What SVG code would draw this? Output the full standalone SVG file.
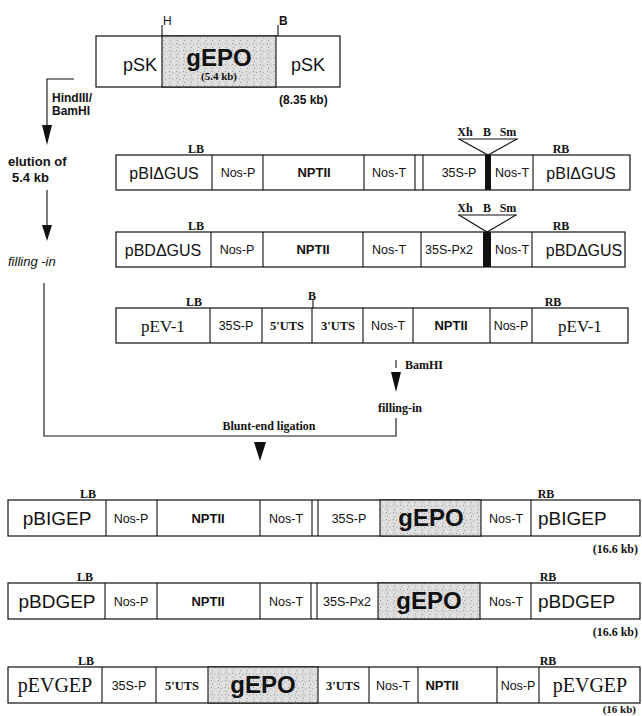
<svg xmlns="http://www.w3.org/2000/svg" width="642" height="716" viewBox="0 0 642 716">
<style>
.box{fill:#fff;stroke:#111;stroke-width:1.2}
.seg{stroke:#111;stroke-width:1.1;fill:none}
.ln{stroke:#111;stroke-width:1.1;fill:none}
.sans{font-family:"Liberation Sans",Arial,sans-serif;fill:#111}
.serif{font-family:"Liberation Serif","Times New Roman",serif;fill:#111;font-weight:bold}
.rs{font-family:"Liberation Serif","Times New Roman",serif;fill:#111;font-weight:normal}
.big{font-size:18px}
.mid{font-size:12.5px}
.gepo{font-size:24px;font-weight:bold}
.npt{font-size:13px;font-weight:bold}
.tag{font-size:12px}
.kb{font-size:12px}
</style>
<defs>
<pattern id="stip" width="7" height="7" patternUnits="userSpaceOnUse">
<rect width="7" height="7" fill="#dcdcdc"/>
<rect x="1" y="1" width="1" height="1" fill="#9a9a9a"/>
<rect x="4" y="2" width="1" height="1" fill="#b0b0b0"/>
<rect x="2" y="5" width="1" height="1" fill="#a4a4a4"/>
<rect x="5" y="5" width="1" height="1" fill="#f4f4f4"/>
<rect x="6" y="0" width="1" height="1" fill="#f0f0f0"/>
</pattern>
</defs>

<!-- top construct -->
<g id="pSK-gEPO">
<rect class="box" x="96" y="36" width="244" height="51"/>
<rect x="162" y="36" width="114" height="51" fill="url(#stip)" stroke="#111" stroke-width="1.1"/>
<line class="ln" x1="162" y1="25" x2="162" y2="36"/>
<line class="ln" x1="278" y1="25" x2="278" y2="36"/>
<text class="sans" x="163" y="25" font-size="12">H</text>
<text class="sans" x="279" y="25" font-size="12" font-weight="bold">B</text>
<text class="sans big" x="140" y="71" text-anchor="middle">pSK</text>
<text class="sans gepo" x="219" y="66" text-anchor="middle">gEPO</text>
<text class="serif" x="219" y="80" font-size="11" text-anchor="middle">(5.4 kb)</text>
<text class="sans big" x="308" y="71" text-anchor="middle">pSK</text>
<text class="sans" x="279" y="104" font-size="12" font-weight="bold">(8.35 kb)</text>
</g>

<!-- pBI delta GUS -->
<g id="pBIdGUS">
<rect class="box" x="116" y="155" width="514" height="35"/>
<path class="seg" d="M212 155V190M263 155V190M364 155V190M415 155V190M423 155V190M533 155V190"/>
<rect x="485" y="155" width="6" height="35" fill="#111"/>
<text class="sans" x="164" y="179" font-size="16" text-anchor="middle">pBIΔGUS</text>
<text class="sans mid" x="238" y="177" text-anchor="middle">Nos-P</text>
<text class="sans npt" x="314" y="177" text-anchor="middle">NPTII</text>
<text class="sans mid" x="389" y="177" text-anchor="middle">Nos-T</text>
<text class="sans mid" x="459" y="177" text-anchor="middle">35S-P</text>
<text class="sans mid" x="512" y="177" text-anchor="middle">Nos-T</text>
<text class="sans" x="581" y="179" font-size="16" text-anchor="middle">pBIΔGUS</text>
<text class="serif tag" x="196" y="153" text-anchor="middle">LB</text>
<text class="serif tag" x="561" y="153" text-anchor="middle">RB</text>
<text class="serif tag" x="465" y="136" text-anchor="middle">Xh</text>
<text class="serif tag" x="487" y="136" text-anchor="middle">B</text>
<text class="serif tag" x="508" y="136" text-anchor="middle">Sm</text>
<line class="ln" x1="458" y1="139" x2="518" y2="139"/>
<polyline class="ln" points="459,139 488,155 517,139"/>
</g>

<!-- pBD delta GUS -->
<g id="pBDdGUS">
<rect class="box" x="116" y="232" width="509" height="35"/>
<path class="seg" d="M211 232V267M263 232V267M363 232V267M421 232V267M532 232V267"/>
<rect x="483" y="232" width="8" height="35" fill="#111"/>
<text class="sans" x="163" y="256" font-size="16" text-anchor="middle">pBDΔGUS</text>
<text class="sans mid" x="237" y="254" text-anchor="middle">Nos-P</text>
<text class="sans npt" x="313" y="254" text-anchor="middle">NPTII</text>
<text class="sans mid" x="389" y="254" text-anchor="middle">Nos-T</text>
<text class="sans mid" x="449" y="254" text-anchor="middle">35S-Px2</text>
<text class="sans mid" x="512" y="254" text-anchor="middle">Nos-T</text>
<text class="sans" x="584" y="256" font-size="16" text-anchor="middle">pBDΔGUS</text>
<text class="serif tag" x="196" y="230" text-anchor="middle">LB</text>
<text class="serif tag" x="561" y="230" text-anchor="middle">RB</text>
<text class="serif tag" x="465" y="212" text-anchor="middle">Xh</text>
<text class="serif tag" x="487" y="212" text-anchor="middle">B</text>
<text class="serif tag" x="508" y="212" text-anchor="middle">Sm</text>
<line class="ln" x1="458" y1="215" x2="517" y2="215"/>
<polyline class="ln" points="459,215 487,232 516,215"/>
</g>

<!-- pEV-1 -->
<g id="pEV-1">
<rect class="box" x="116" y="308" width="512" height="35"/>
<path class="seg" d="M210 308V343M262 308V343M312 308V343M363 308V343M413 308V343M490 308V343M532 308V343"/>
<line class="ln" x1="313" y1="300" x2="313" y2="308"/>
<text class="serif tag" x="312" y="300" text-anchor="middle">B</text>
<text class="rs" x="163" y="332" font-size="17" text-anchor="middle">pEV-1</text>
<text class="sans mid" x="236" y="330" text-anchor="middle">35S-P</text>
<text class="serif mid" x="287" y="330" text-anchor="middle">5'UTS</text>
<text class="serif mid" x="338" y="330" text-anchor="middle">3'UTS</text>
<text class="sans mid" x="388" y="330" text-anchor="middle">Nos-T</text>
<text class="sans npt" x="451" y="330" text-anchor="middle">NPTII</text>
<text class="sans mid" x="511" y="330" text-anchor="middle">Nos-P</text>
<text class="rs" x="580" y="332" font-size="17" text-anchor="middle">pEV-1</text>
<text class="serif tag" x="194" y="306" text-anchor="middle">LB</text>
<text class="serif tag" x="553" y="306" text-anchor="middle">RB</text>
</g>

<!-- pBIGEP -->
<g id="pBIGEP">
<rect class="box" x="8" y="500" width="632" height="36"/>
<rect x="380" y="500" width="101" height="36" fill="url(#stip)" stroke="#111" stroke-width="1.1"/>
<path class="seg" d="M106 500V536M157 500V536M260 500V536M312 500V536M318 500V536M531 500V536"/>
<text class="sans" x="57" y="525" font-size="19" text-anchor="middle">pBIGEP</text>
<text class="sans mid" x="131" y="523" text-anchor="middle">Nos-P</text>
<text class="sans npt" x="208" y="523" text-anchor="middle">NPTII</text>
<text class="sans mid" x="286" y="523" text-anchor="middle">Nos-T</text>
<text class="sans mid" x="349" y="523" text-anchor="middle">35S-P</text>
<text class="sans gepo" x="431" y="526" text-anchor="middle">gEPO</text>
<text class="sans mid" x="506" y="523" text-anchor="middle">Nos-T</text>
<text class="sans" x="538" y="525" font-size="19">pBIGEP</text>
<text class="serif tag" x="88" y="498" text-anchor="middle">LB</text>
<text class="serif tag" x="546" y="498" text-anchor="middle">RB</text>
<text class="serif kb" x="638" y="553" text-anchor="end">(16.6 kb)</text>
</g>

<!-- pBDGEP -->
<g id="pBDGEP">
<rect class="box" x="8" y="583" width="632" height="36"/>
<rect x="378" y="583" width="102" height="36" fill="url(#stip)" stroke="#111" stroke-width="1.1"/>
<path class="seg" d="M105 583V619M157 583V619M260 583V619M311 583V619M317 583V619M531 583V619"/>
<text class="sans" x="57" y="608" font-size="19" text-anchor="middle">pBDGEP</text>
<text class="sans mid" x="131" y="606" text-anchor="middle">Nos-P</text>
<text class="sans npt" x="208" y="606" text-anchor="middle">NPTII</text>
<text class="sans mid" x="286" y="606" text-anchor="middle">Nos-T</text>
<text class="sans mid" x="347" y="606" text-anchor="middle">35S-Px2</text>
<text class="sans gepo" x="429" y="609" text-anchor="middle">gEPO</text>
<text class="sans mid" x="506" y="606" text-anchor="middle">Nos-T</text>
<text class="sans" x="538" y="608" font-size="19">pBDGEP</text>
<text class="serif tag" x="85" y="581" text-anchor="middle">LB</text>
<text class="serif tag" x="548" y="581" text-anchor="middle">RB</text>
<text class="serif kb" x="638" y="636" text-anchor="end">(16.6 kb)</text>
</g>

<!-- pEVGEP -->
<g id="pEVGEP">
<rect class="box" x="8" y="667" width="632" height="36"/>
<rect x="208" y="667" width="110" height="36" fill="url(#stip)" stroke="#111" stroke-width="1.1"/>
<path class="seg" d="M102 667V703M156 667V703M369 667V703M418 667V703M497 667V703M539 667V703"/>
<text class="rs" x="55" y="692" font-size="20" text-anchor="middle">pEVGEP</text>
<text class="sans mid" x="129" y="690" text-anchor="middle">35S-P</text>
<text class="serif mid" x="182" y="690" text-anchor="middle">5'UTS</text>
<text class="sans gepo" x="263" y="693" text-anchor="middle">gEPO</text>
<text class="serif mid" x="343" y="690" text-anchor="middle">3'UTS</text>
<text class="sans mid" x="393" y="690" text-anchor="middle">Nos-T</text>
<text class="sans npt" x="442" y="690" text-anchor="middle">NPTII</text>
<text class="sans mid" x="518" y="690" text-anchor="middle">Nos-P</text>
<text class="rs" x="590" y="692" font-size="20" text-anchor="middle">pEVGEP</text>
<text class="serif tag" x="86" y="665" text-anchor="middle">LB</text>
<text class="serif tag" x="548" y="665" text-anchor="middle">RB</text>
<text class="serif" x="636" y="713" font-size="11" text-anchor="end">(16 kb)</text>
</g>

<!-- connectors -->
<g id="connectors">
<polyline class="ln" points="74,79 47,79 47,126"/>
<polygon points="42,125 52,125 47,145" fill="#111"/>
<line class="ln" x1="47" y1="190" x2="47" y2="226"/>
<polygon points="42,225 52,225 47,241" fill="#111"/>
<polyline class="ln" points="44,283 44,436 396,436 396,418"/>
<line class="ln" x1="396" y1="360" x2="396" y2="368"/>
<polygon points="391,372 401,372 396,392" fill="#111"/>
<polygon points="254,442 266,442 260,461" fill="#111"/>
</g>

<!-- process labels -->
<g id="labels">
<text class="sans" x="52" y="102" font-size="12" font-weight="bold">HindIII/</text>
<text class="sans" x="52" y="115" font-size="12" font-weight="bold">BamHI</text>
<text class="sans" x="8" y="166" font-size="13" font-weight="bold">elution of</text>
<text class="sans" x="12" y="182" font-size="13" font-weight="bold">5.4 kb</text>
<text class="sans" x="8" y="266" font-size="13" font-style="italic">filling -in</text>
<text class="serif" x="405" y="369" font-size="12">BamHI</text>
<text class="serif" x="400" y="412" font-size="12" text-anchor="middle">filling-in</text>
<text class="serif" x="269" y="430" font-size="12" text-anchor="middle">Blunt-end ligation</text>
</g>
</svg>
